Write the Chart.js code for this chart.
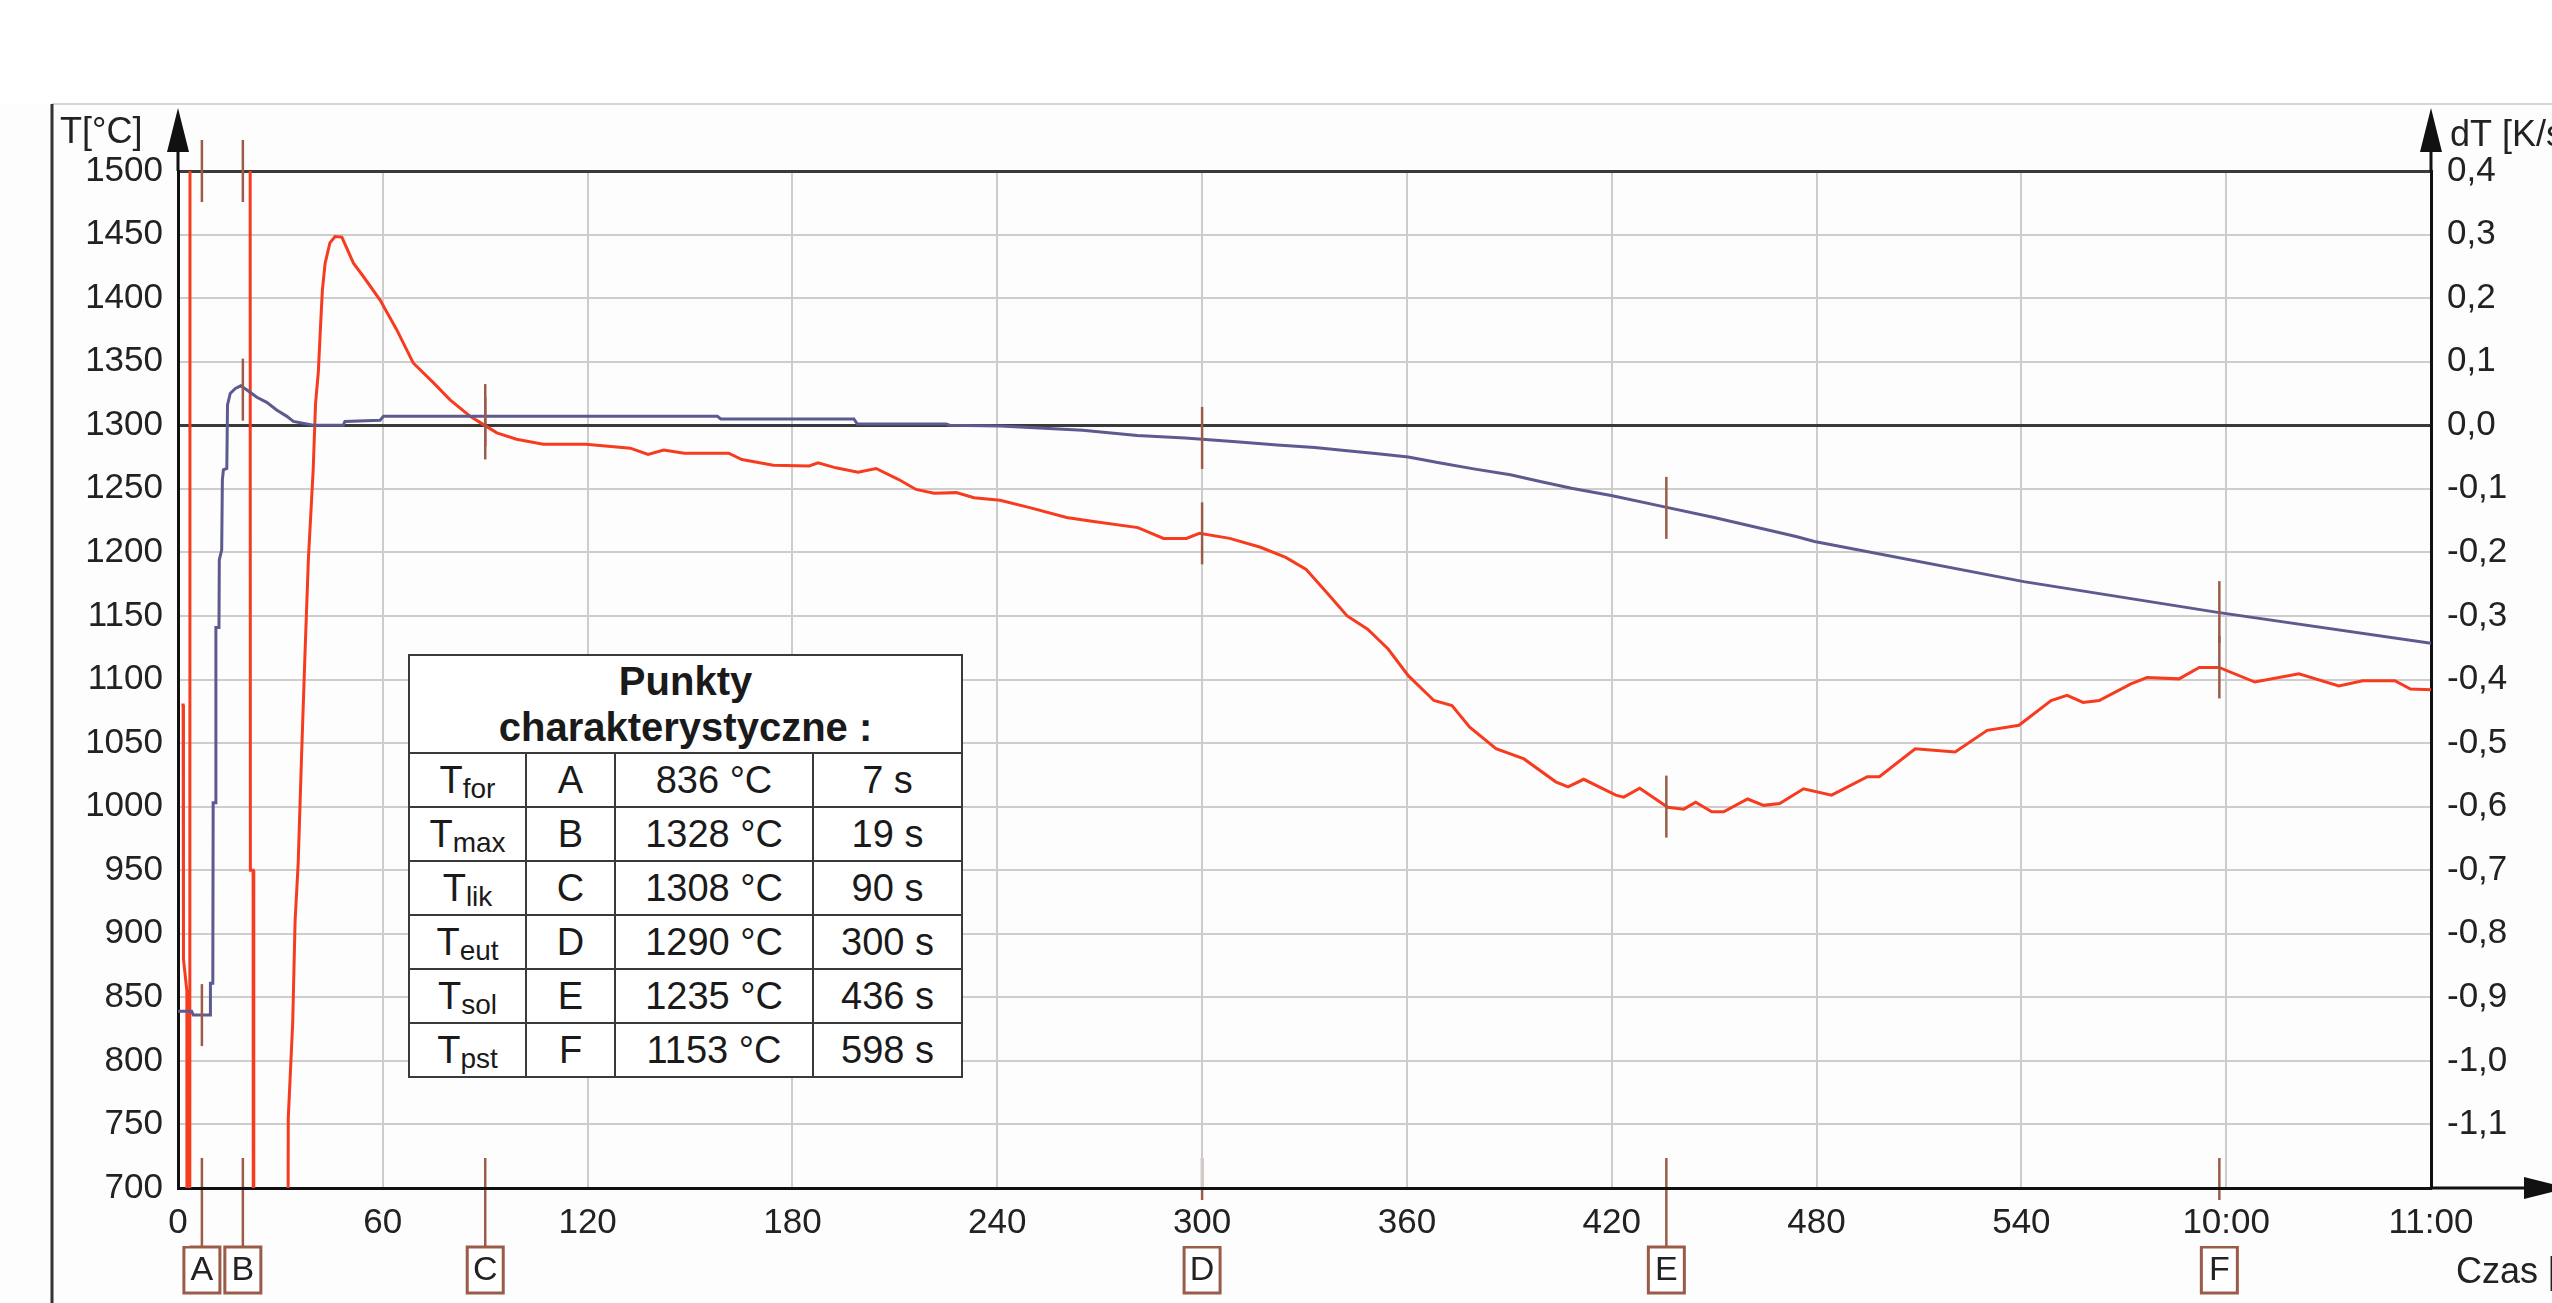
<!DOCTYPE html>
<html>
<head>
<meta charset="utf-8">
<script src="https://cdn.jsdelivr.net/npm/chart.js@4.4.1/dist/chart.umd.min.js"></script>
<style>
  html, body { margin: 0; padding: 0; background: #fff; overflow: hidden; }
  #wrap { position: relative; width: 2552px; height: 1303px; }
  #chart { position: absolute; left: 0; top: 0; }
  #points {
    position: absolute; left: 408px; top: 654px; width: 553px;
    border-collapse: collapse; table-layout: fixed; background: #fff;
    font-family: Arial, 'Liberation Sans', sans-serif; color: #1a1a1a;
  }
  #points td, #points th { border: 2px solid #3a3a3a; text-align: center; padding: 0; }
  #points th { font-size: 40px; font-weight: bold; height: 96px; line-height: 46px; }
  #points td { font-size: 38px; height: 52px; line-height: 40px; }
  #points sub { font-size: 28px; vertical-align: -5px; line-height: 0; }
</style>
</head>
<body>
<div id="wrap">
  <canvas id="chart" width="2552" height="1303"></canvas>
  <table id="points">
    <colgroup><col style="width:117px"><col style="width:89px"><col style="width:198px"><col style="width:149px"></colgroup>
    <thead><tr><th colspan="4">Punkty<br>charakterystyczne :</th></tr></thead>
    <tbody id="pointRows"></tbody>
  </table>
</div>
<script>
// temperature curve T [°C] (left axis), time in s
const tempTime = [0, 4, 4.5, 9.4, 9.5, 10.2, 10.3, 11, 11.1, 12, 12.1, 12.8, 13.0, 13.3, 14.3, 14.5, 15.3, 16.8, 18.4, 20.6,
  23.1, 26, 28.9, 31.9, 33.8, 39.6, 48.4, 48.9, 59.2, 60.2, 158, 159, 198, 199, 225, 226, 241, 265, 281, 295,
  310, 322, 333, 342.5, 351.5, 360.4, 369.4, 380, 390.3, 399.4, 408.2, 420.2, 435.1, 450, 474, 479.4, 540.7, 597, 660];
const tempValue = [839, 839, 836, 836, 861, 861, 1003, 1003, 1141, 1141, 1194, 1202, 1257, 1265, 1266, 1316, 1325, 1329, 1331, 1327,
  1322, 1318, 1312, 1307, 1303, 1300, 1300, 1303, 1304, 1307, 1307, 1305, 1305, 1301, 1301, 1300, 1299.5, 1296, 1292, 1290,
  1287, 1284.5, 1282.5, 1280, 1277.5, 1275, 1270.5, 1265.5, 1261, 1255.5, 1250.5, 1244.5, 1236, 1227.5, 1212.5, 1208.5, 1177, 1153, 1128.5];

// cooling rate dT [K/s] (right axis)
const rateTime = [1.0, 1.5, 1.6, 2.6, 2.7, 3.4, 3.6, 21.0, 21.2, 22.0, 22.2, 31.7, 32.3, 33.6, 34.3, 35.2, 36.2, 37.2, 38.2, 39.6,
  40.3, 41.1, 41.8, 42.3, 43.1, 44.5, 46, 48, 51.4, 54.3, 59.2, 64.1, 68.9, 74.8, 79.7, 85.6, 89.5, 93.4, 99.2, 107,
  119.5, 132.5, 137.7, 142.3, 148.3, 161.3, 165.2, 174.4, 184.9, 187.5, 192.7, 199.2, 204.5, 211, 216.2, 221.5, 228, 233.2, 240.8, 249.8,
  260.3, 267.7, 281.2, 288.7, 295.4, 299.2, 308.1, 317.1, 324.5, 330.5, 336.5, 342.5, 348.5, 354.5, 360.4, 367.9, 373.2, 378.4, 386.1, 394.3,
  403.6, 407.2, 411.8, 421.2, 423.5, 428.2, 436.4, 441.1, 444.6, 449.3, 452.8, 459.8, 464.5, 469.2, 476.2, 484.4, 494.9, 498.4, 508.9, 520.6,
  530, 539.3, 548.7, 553.4, 558.1, 562.8, 572.1, 576.8, 586.2, 592.1, 597.9, 608.4, 621.3, 633, 640, 649.4, 654, 660];
const rateValue = [-0.44, -0.44, -0.84, -0.89, -3.0, -3.0, 3.0, 3.0, -0.70, -0.70, -3.0, -3.0, -1.09, -0.94, -0.78, -0.69, -0.52, -0.36, -0.21, -0.07,
  0.035, 0.083, 0.161, 0.213, 0.255, 0.287, 0.297, 0.296, 0.255, 0.234, 0.197, 0.150, 0.098, 0.067, 0.040, 0.014, 0.001, -0.012, -0.022, -0.030,
  -0.030, -0.036, -0.046, -0.039, -0.044, -0.044, -0.054, -0.063, -0.064, -0.059, -0.067, -0.074, -0.068, -0.085, -0.101, -0.107, -0.106, -0.114, -0.118, -0.130,
  -0.145, -0.151, -0.161, -0.178, -0.178, -0.170, -0.178, -0.192, -0.208, -0.227, -0.263, -0.300, -0.321, -0.352, -0.394, -0.433, -0.441, -0.475, -0.509, -0.525,
  -0.561, -0.569, -0.557, -0.582, -0.585, -0.571, -0.601, -0.604, -0.593, -0.608, -0.608, -0.588, -0.598, -0.595, -0.572, -0.582, -0.553, -0.553, -0.509, -0.514,
  -0.480, -0.472, -0.433, -0.425, -0.436, -0.433, -0.407, -0.397, -0.399, -0.381, -0.381, -0.404, -0.391, -0.410, -0.402, -0.402, -0.415, -0.416];

// characteristic points
const pointLabels = ['A', 'B', 'C', 'D', 'E', 'F'];
const pointNames = ['for', 'max', 'lik', 'eut', 'sol', 'pst'];
const pointTime = [7, 19, 90, 300, 436, 598];
const pointTemp = [836, 1328, 1308, 1290, 1235, 1153];
const pointRate = [0.4, 0.4, -0.005, -0.17, -0.60, -0.381];

const markerColor = '#9a5b48';
const labelFont = "'Liberation Sans', Arial, sans-serif";

document.getElementById('pointRows').innerHTML = pointLabels.map((p, i) =>
  '<tr><td>T<sub>' + pointNames[i] + '</sub></td><td>' + p + '</td><td>' + pointTemp[i] +
  ' °C</td><td>' + pointTime[i] + ' s</td></tr>').join('');

function line(ctx, x1, y1, x2, y2) {
    ctx.beginPath();
    ctx.moveTo(x1, y1);
    ctx.lineTo(x2, y2);
    ctx.stroke();
}

const decorPlugin = {
    id: 'decor',
    beforeDraw(chart) {
        const ctx = chart.ctx;
        const area = chart.chartArea;
        const xs = chart.scales.x;
        ctx.save();
        ctx.fillStyle = '#fdfdfd';
        ctx.fillRect(0, 0, chart.width, chart.height);
        ctx.fillStyle = '#ffffff';
        ctx.fillRect(0, 0, chart.width, 103);
        // outer frame
        ctx.strokeStyle = '#d6d6d6';
        ctx.lineWidth = 2;
        line(ctx, 52, 104, chart.width, 104);
        ctx.strokeStyle = '#333';
        ctx.lineWidth = 3;
        line(ctx, 52, 104, 52, chart.height);
        // markers on time axis with boxed letters
        ctx.font = '34px ' + labelFont;
        ctx.textAlign = 'center';
        ctx.textBaseline = 'middle';
        pointTime.forEach((t, i) => {
            const px = xs.getPixelForValue(t);
            ctx.strokeStyle = markerColor;
            ctx.lineWidth = 2.5;
            line(ctx, px, area.bottom - 30, px, area.bottom + 59);
            ctx.fillStyle = '#ffffff';
            ctx.fillRect(px - 18, area.bottom + 59, 36, 46);
            ctx.lineWidth = 3;
            ctx.strokeRect(px - 18, area.bottom + 59, 36, 46);
            ctx.fillStyle = '#222';
            ctx.fillText(pointLabels[i], px, area.bottom + 83);
        });
        ctx.restore();
    },
    afterDraw(chart) {
        const ctx = chart.ctx;
        const area = chart.chartArea;
        const xs = chart.scales.x;
        const ys = chart.scales.y;
        const ys2 = chart.scales.y2;
        ctx.save();
        // markers on the curves
        ctx.strokeStyle = markerColor;
        ctx.lineWidth = 2.5;
        pointTime.forEach((t, i) => {
            const px = xs.getPixelForValue(t);
            const pt = ys.getPixelForValue(pointTemp[i]);
            const pr = ys2.getPixelForValue(pointRate[i]);
            line(ctx, px, pt - 31, px, pt + 31);
            line(ctx, px, pr - 31, px, pr + 31);
        });
        // axis arrows
        ctx.strokeStyle = '#111';
        ctx.fillStyle = '#111';
        ctx.lineWidth = 3;
        [area.left, area.right].forEach(ax => {
            line(ctx, ax, area.top, ax, 130);
            ctx.beginPath();
            ctx.moveTo(ax, 108);
            ctx.lineTo(ax - 11, 152);
            ctx.lineTo(ax + 11, 152);
            ctx.closePath();
            ctx.fill();
        });
        line(ctx, area.right, area.bottom, 2530, area.bottom);
        ctx.beginPath();
        ctx.moveTo(2524, area.bottom - 11);
        ctx.lineTo(2568, area.bottom);
        ctx.lineTo(2524, area.bottom + 11);
        ctx.closePath();
        ctx.fill();
        // axis titles
        ctx.fillStyle = '#222';
        ctx.font = '36px ' + labelFont;
        ctx.textAlign = 'left';
        ctx.textBaseline = 'alphabetic';
        ctx.fillText('T[°C]', 60, 143);
        ctx.fillText('dT [K/s]', 2450, 146);
        ctx.fillText('Czas [s]', 2456, 1283);
        ctx.restore();
    }
};

const ctx = document.getElementById('chart').getContext('2d');
new Chart(ctx, {
    type: 'line',
    data: {
        datasets: [
            {
                label: 'T',
                data: tempTime.map((t, i) => ({x: t, y: tempValue[i]})),
                yAxisID: 'y',
                borderColor: '#5c5a8e',
                borderWidth: 3,
                pointRadius: 0,
                tension: 0
            },
            {
                label: 'dT',
                data: rateTime.map((t, i) => ({x: t, y: rateValue[i]})),
                yAxisID: 'y2',
                borderColor: '#f63b1f',
                borderWidth: 3,
                pointRadius: 0,
                tension: 0
            }
        ]
    },
    options: {
        responsive: false,
        animation: false,
        events: [],
        layout: { padding: { top: 171, left: 0, right: 0, bottom: 0 } },
        plugins: { legend: { display: false }, tooltip: { enabled: false } },
        scales: {
            x: {
                type: 'linear',
                min: 0,
                max: 660,
                afterFit: scale => { scale.height = 115; },
                ticks: {
                    stepSize: 60,
                    padding: 14,
                    color: '#222',
                    font: { family: labelFont, size: 35 },
                    showLabelBackdrop: true,
                    backdropColor: '#fdfdfd',
                    backdropPadding: 2,
                    callback: value => value >= 600 ? (value / 60) + ':00' : String(value)
                },
                grid: { color: '#cdcdcd', lineWidth: 2, drawTicks: false },
                border: { display: true, color: '#111', width: 3 }
            },
            y: {
                position: 'left',
                min: 700,
                max: 1500,
                afterFit: scale => { scale.width = 178; },
                ticks: {
                    stepSize: 50,
                    padding: 15,
                    color: '#222',
                    font: { family: labelFont, size: 35 },
                    callback: value => String(value)
                },
                grid: {
                    drawTicks: false,
                    color: c => (c.tick && (c.tick.value === 1500 || c.tick.value === 1300)) ? '#3a3a3a' : '#cdcdcd',
                    lineWidth: c => (c.tick && (c.tick.value === 1500 || c.tick.value === 1300)) ? 3 : 2
                },
                border: { display: true, color: '#111', width: 3 }
            },
            y2: {
                position: 'right',
                min: -1.2,
                max: 0.4,
                afterFit: scale => { scale.width = 121; },
                ticks: {
                    stepSize: 0.1,
                    padding: 16,
                    color: '#222',
                    font: { family: labelFont, size: 35 },
                    callback: value => value < -1.15 ? '' : value.toFixed(1).replace('.', ',')
                },
                grid: { display: false, drawTicks: false },
                border: { display: true, color: '#111', width: 3 }
            }
        }
    },
    plugins: [decorPlugin]
});
</script>
</body>
</html>
